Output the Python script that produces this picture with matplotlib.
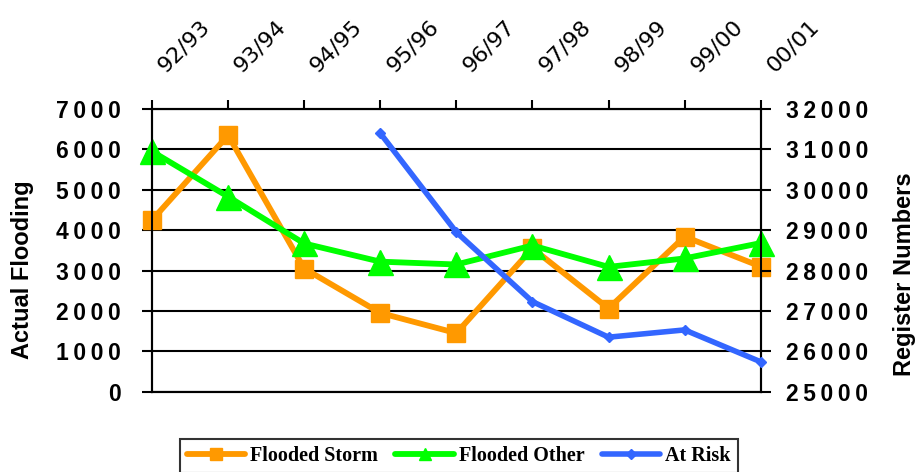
import numpy as np
import matplotlib
matplotlib.use("Agg")
import matplotlib.pyplot as plt
from matplotlib.lines import Line2D

categories = ["92/93", "93/94", "94/95", "95/96", "96/97", "97/98", "98/99", "99/00", "00/01"]
flooded_storm = [4250, 6350, 3050, 1950, 1450, 3550, 2060, 3840, 3100]
flooded_other = [5950, 4830, 3670, 3220, 3150, 3620, 3090, 3300, 3680]
at_risk = [np.nan, np.nan, np.nan, 31400, 28950, 27230, 26350, 26530, 25740]

left_ticks = [0, 1000, 2000, 3000, 4000, 5000, 6000, 7000]
right_ticks = [25000, 26000, 27000, 28000, 29000, 30000, 31000, 32000]

ORANGE = "#FF9900"
GREEN = "#00FF00"
BLUE = "#3366FF"
THIN = "\u2009"


def spaced(text):
    # extra tracking between the digits
    return THIN.join(text)


fig = plt.figure(figsize=(9.17, 4.72), dpi=100)
ax = fig.add_axes([152 / 917, 1 - 391.7 / 472, (760.7 - 152) / 917, (391.7 - 109) / 472])
ax2 = ax.twinx()

x = np.arange(len(categories))

ax.plot(x, flooded_storm, color=ORANGE, lw=4.2, marker="s", ms=13.5,
        clip_on=False, zorder=3, solid_joinstyle="miter")
ax.plot(x, flooded_other, color=GREEN, lw=4.2, marker="^", ms=18,
        clip_on=False, zorder=4, solid_joinstyle="miter")
ax2.plot(x, at_risk, color=BLUE, lw=4, marker="D", ms=5,
         clip_on=False, zorder=3)

ax.set_xlim(0, len(categories) - 1)
ax.set_ylim(0, 7000)
ax2.set_ylim(25000, 32000)

# horizontal grid
ax.set_axisbelow(True)
ax.yaxis.grid(True, color="black", lw=1.5)

for a in (ax, ax2):
    for side in a.spines.values():
        side.set_linewidth(1.5)
        side.set_color("black")

# category labels sit above the top edge
ax.set_xticks(x)
ax.tick_params(axis="x", which="both", bottom=False, top=True, labelbottom=False,
               labeltop=False, direction="out", length=6.5, width=1.5)
for i, cat in enumerate(categories):
    ax.annotate(cat, xy=(i, 1), xycoords=("data", "axes fraction"),
                xytext=(10, 26), textcoords="offset points",
                rotation=45, rotation_mode="anchor", ha="left", va="baseline",
                fontsize=16, family="DejaVu Sans", color="black")

ax.set_yticks(left_ticks)
ax.set_yticklabels([spaced(str(v)) for v in left_ticks], fontsize=16.5,
                   fontweight="bold", family="Liberation Sans")
ax.tick_params(axis="y", direction="out", length=7.5, width=1.5, pad=15)

ax2.set_yticks(right_ticks)
ax2.set_yticklabels([spaced(str(v)) for v in right_ticks], fontsize=16.5,
                    fontweight="bold", family="Liberation Sans")
ax2.tick_params(axis="y", direction="out", length=7.5, width=1.5, pad=11)

fig.text(23 / 917, 1 - 270 / 472, "Actual Flooding", rotation=90, ha="center", va="center",
         fontsize=17, fontweight="bold", family="Liberation Sans")
fig.text(904 / 917, 1 - 274 / 472, "Register Numbers", rotation=90, ha="center", va="center",
         fontsize=17, fontweight="bold", family="Liberation Sans")

handles = [
    Line2D([], [], color=ORANGE, lw=4.2, marker="s", ms=8, solid_capstyle="round"),
    Line2D([], [], color=GREEN, lw=4.2, marker="^", ms=9, solid_capstyle="round"),
    Line2D([], [], color=BLUE, lw=4, marker="D", ms=5, solid_capstyle="round"),
]
leg = fig.legend(handles, ["Flooded Storm", "Flooded Other", "At Risk"],
                 loc="upper left", bbox_to_anchor=(180 / 917, 1 - 439 / 472),
                 ncol=3, frameon=True, fancybox=False, edgecolor="black",
                 handlelength=2.9, handletextpad=0.25, columnspacing=0.85,
                 borderpad=0.35, borderaxespad=0,
                 prop={"family": "Liberation Serif", "weight": "bold", "size": 14.5})
leg.get_frame().set_linewidth(1.5)

fig.savefig("out.png", dpi=100)
